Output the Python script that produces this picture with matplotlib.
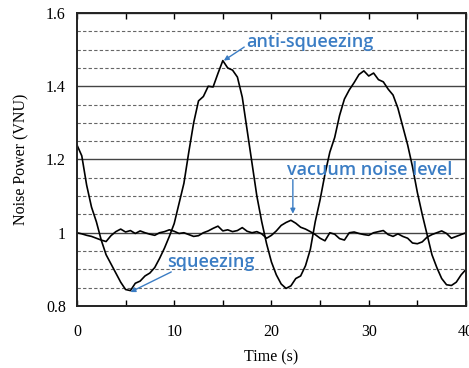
import matplotlib
matplotlib.use("Agg")
import matplotlib.pyplot as plt
from matplotlib.ticker import MultipleLocator, FuncFormatter

# ---- data ----
time_s = [i * 0.5 for i in range(81)]
squeezed = [1.24, 1.21, 1.13, 1.07, 1.03, 0.98, 0.94, 0.915, 0.89, 0.865,
            0.845, 0.842, 0.862, 0.868, 0.882, 0.89, 0.905, 0.93, 0.958, 0.99,
            1.025, 1.08, 1.135, 1.22, 1.30, 1.36, 1.372, 1.40, 1.398, 1.435,
            1.47, 1.45, 1.444, 1.425, 1.37, 1.28, 1.19, 1.10, 1.03, 0.97,
            0.92, 0.885, 0.86, 0.848, 0.855, 0.875, 0.882, 0.91, 0.955, 1.03,
            1.09, 1.16, 1.22, 1.26, 1.32, 1.365, 1.39, 1.41, 1.432, 1.442,
            1.428, 1.436, 1.418, 1.412, 1.392, 1.376, 1.34, 1.29, 1.24, 1.18,
            1.11, 1.05, 0.995, 0.94, 0.905, 0.875, 0.858, 0.856, 0.865, 0.885,
            0.90]
vacuum = [1.0, 0.997, 0.993, 0.99, 0.985, 0.98, 0.976, 0.992, 1.003, 1.01,
          1.002, 1.006, 0.998, 1.005, 1.0, 0.996, 0.993, 1.0, 1.003, 1.008,
          1.004, 0.998, 1.0, 0.995, 0.99, 0.992, 1.0, 1.005, 1.012, 1.018,
          1.005, 1.008, 1.003, 1.006, 1.014, 1.004, 1.0, 1.003, 0.997, 0.985,
          0.993, 1.005, 1.02, 1.028, 1.034, 1.026, 1.015, 1.01, 1.003, 0.995,
          0.985, 0.978, 1.0, 0.996, 0.984, 0.98, 1.0, 1.002, 0.998, 0.995,
          0.993, 1.0, 1.003, 1.006, 0.995, 0.99, 0.997, 0.99, 0.985, 0.972,
          0.97, 0.975, 0.988, 0.995, 1.0, 1.005, 0.998, 0.985, 0.99, 0.995,
          1.0]

x_ticks = [0, 10, 20, 30, 40]
y_ticks = [0.8, 1.0, 1.2, 1.4, 1.6]

# (label, arrow tip, arrow tail, text position)
annotations = [
    ("anti-squeezing", (15.1, 1.47), (17.2, 1.507), (17.4, 1.521)),
    ("vacuum noise level", (22.2, 1.052), (22.2, 1.145), (21.6, 1.171)),
    ("squeezing", (5.5, 0.838), (9.7, 0.893), (9.25, 0.92)),
]

serif = ["Liberation Serif", "DejaVu Serif"]
blue = "#3b7dc4"

fig = plt.figure(figsize=(4.69, 3.68), dpi=100)
ax = fig.add_axes([0.164, 0.1685, 0.8296, 0.7962])

ax.plot(time_s, squeezed, color="black", lw=1.2)
ax.plot(time_s, vacuum, color="black", lw=1.2)

ax.set_xlim(0, 40)
ax.set_ylim(0.8, 1.6)
ax.set_xticks(x_ticks)
ax.set_yticks(y_ticks)
ax.xaxis.set_minor_locator(MultipleLocator(5))
ax.yaxis.set_minor_locator(MultipleLocator(0.05))
ax.yaxis.set_major_formatter(FuncFormatter(lambda v, p: "1" if abs(v - 1) < 1e-9 else f"{v:.1f}"))

ax.grid(axis="y", which="major", color="#444444", lw=1.0, ls="-")
ax.grid(axis="y", which="minor", color="#666666", lw=0.8, ls=(0, (3, 2)))
ax.set_axisbelow(True)

ax.tick_params(axis="x", which="both", direction="in", top=True, bottom=True, length=4, width=1, pad=13)
ax.tick_params(axis="y", which="both", left=False, right=False, length=0, pad=8)
for lab in ax.get_xticklabels() + ax.get_yticklabels():
    lab.set_family(serif)
    lab.set_fontsize(11.5)
for s in ax.spines.values():
    s.set_linewidth(1.4)
    s.set_color("#222222")

ax.set_xlabel("Time (s)", family=serif, fontsize=11.5, labelpad=7)
ax.set_ylabel("Noise Power (VNU)", family=serif, fontsize=11.5, labelpad=12)

for text, tip, tail, pos in annotations:
    ax.annotate("", xy=tip, xytext=tail,
                arrowprops=dict(arrowstyle="-|>", color=blue, lw=1.0,
                                mutation_scale=7, shrinkA=0, shrinkB=0),
                annotation_clip=False)
    ax.text(pos[0], pos[1], text, ha="left", va="center", color=blue,
            fontsize=13, family=["Open Sans", "DejaVu Sans"], fontweight="semibold")

fig.savefig("out.png", dpi=100)
